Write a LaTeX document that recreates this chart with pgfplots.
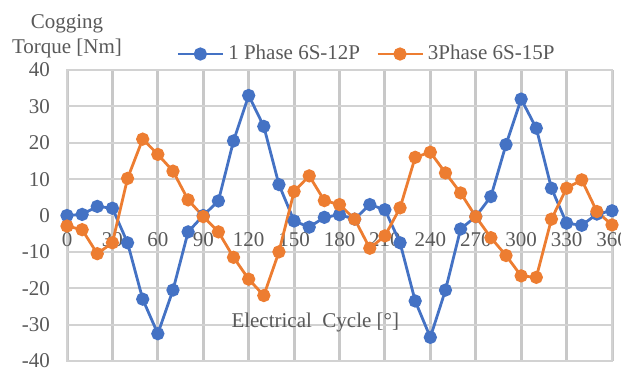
\documentclass[border=0pt]{standalone}
\usepackage{fontspec}
\setmainfont{Liberation Serif}
\usepackage{pgfplots}
\pgfplotsset{compat=1.18}
\definecolor{cblue}{HTML}{4472C4}
\definecolor{corange}{HTML}{ED7D31}
\definecolor{cgrid}{HTML}{D2D2D2}
\definecolor{cgridx}{HTML}{C8C8C8}
\definecolor{ctext}{HTML}{595959}
\begin{document}
\begin{tikzpicture}
\useasboundingbox (-33.5pt,-4.5pt) rectangle (277pt,180.5pt);
\begin{axis}[
  scale only axis, width=272.5pt, height=145.5pt,
  xmin=0, xmax=360, ymin=-40, ymax=40,
  axis line style={draw=cgrid, line width=0.9pt},
  xtick={0,30,...,360}, ytick={-40,-30,...,40},
  xticklabels={0,30,60,90,120,150,180,210,240,270,300,330,360},
  yticklabels={-40,-30,-20,-10,0,10,20,30,40},
  xmajorgrids=true, ymajorgrids=true,
  x grid style={cgridx, line width=1.5pt},
  y grid style={cgrid, line width=0.9pt},
  major tick length=0pt,
  ticklabel style={font=\fontsize{10.5}{12}\selectfont, text=ctext},
  xticklabel style={anchor=north, yshift=68pt},
  yticklabel style={xshift=-5pt},
  clip=false,
  legend style={at={(0.5,1)}, anchor=center, xshift=14pt, yshift=8pt,
    draw=none, fill=none, font=\fontsize{10.5}{12}\selectfont, text=ctext,
    /tikz/every even column/.append style={column sep=6pt}},
  legend columns=2,
  legend image code/.code={\draw[#1, mark repeat=2, mark phase=2] plot coordinates {(0pt,0pt)(11.25pt,0pt)(22.5pt,0pt)};},
]
\addplot[cblue, line width=1.4pt, mark=*, mark size=2.6pt, mark options={solid, fill=cblue, draw=cblue}] coordinates {
(0,0) (10,0.3) (20,2.5) (30,2) (40,-7.5) (50,-23) (60,-32.5) (70,-20.5) (80,-4.5) (90,0)
(100,4) (110,20.5) (120,33) (130,24.5) (140,8.5) (150,-1.5) (160,-3.2) (170,-0.5) (180,0.2) (190,-1)
(200,3) (210,1.6) (220,-7.5) (230,-23.5) (240,-33.5) (250,-20.5) (260,-3.7) (270,-0.3) (280,5.2) (290,19.5)
(300,32) (310,24) (320,7.5) (330,-2.1) (340,-2.7) (350,0.4) (360,1.3)
};
\addlegendentry{1 Phase 6S-12P}
\addplot[corange, line width=1.4pt, mark=*, mark size=2.6pt, mark options={solid, fill=corange, draw=corange}] coordinates {
(0,-2.9) (10,-3.9) (20,-10.5) (30,-7.5) (40,10.2) (50,21) (60,16.8) (70,12.2) (80,4.3) (90,-0.3)
(100,-4.5) (110,-11.5) (120,-17.5) (130,-22) (140,-10) (150,6.6) (160,10.9) (170,4.1) (180,3) (190,-1)
(200,-9) (210,-5.6) (220,2.1) (230,16) (240,17.4) (250,11.7) (260,6.2) (270,-0.3) (280,-6.1) (290,-11)
(300,-16.6) (310,-17) (320,-1) (330,7.5) (340,9.8) (350,1.1) (360,-2.6)
};
\addlegendentry{3Phase 6S-15P}
\node[font=\fontsize{10.5}{12}\selectfont, text=ctext] at (axis cs:164,-29.4) {Electrical\ \ Cycle [°]};
\node[font=\fontsize{10.5}{12.5}\selectfont, text=ctext, align=center, anchor=south] at (rel axis cs:0,1) [yshift=2.5pt] {Cogging\\Torque [Nm]};
\end{axis}
\end{tikzpicture}
\end{document}
